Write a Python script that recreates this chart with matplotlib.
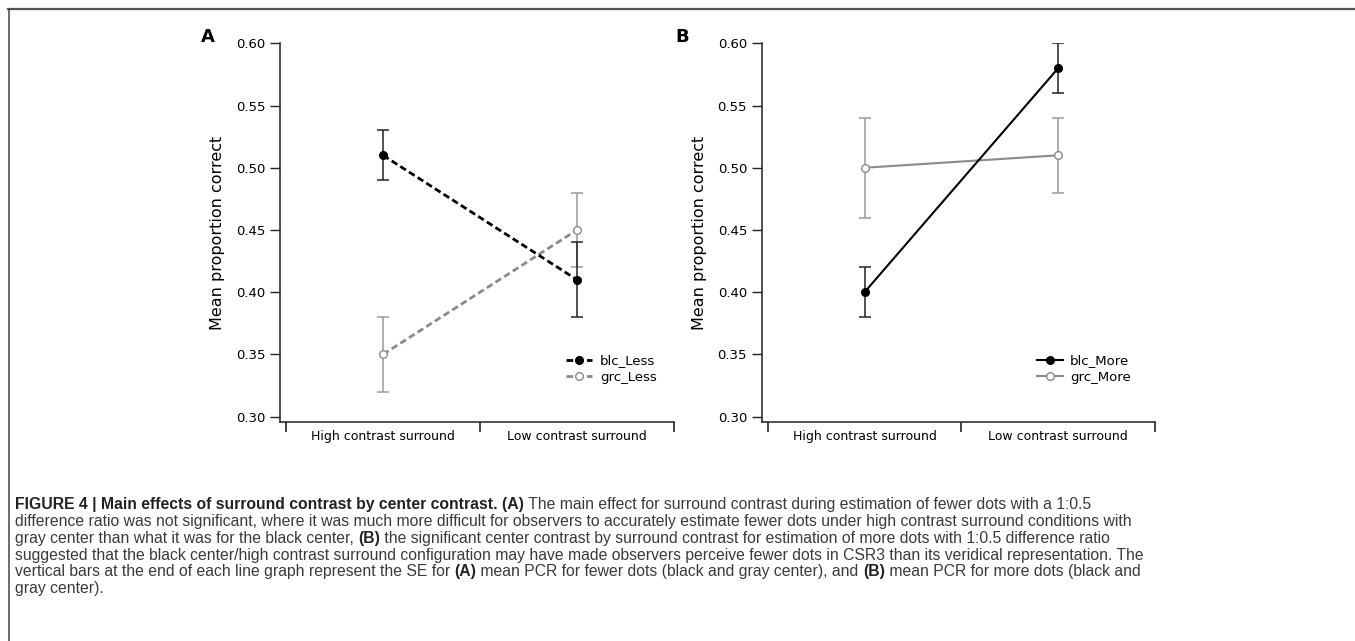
import matplotlib
matplotlib.use('Agg')
import matplotlib.pyplot as plt
from matplotlib.lines import Line2D
from matplotlib import font_manager

# data
conditions = ['High contrast surround', 'Low contrast surround']

blc_less = [0.51, 0.41]
blc_less_err = [0.02, 0.03]
grc_less = [0.35, 0.45]
grc_less_err = [0.03, 0.03]

blc_more = [0.40, 0.58]
blc_more_err = [0.02, 0.02]
grc_more = [0.50, 0.51]
grc_more_err = [0.04, 0.03]

yticks = [0.30, 0.35, 0.40, 0.45, 0.50, 0.55, 0.60]

caption = [
    [("FIGURE 4 | Main effects of surround contrast by center contrast. (A)", True),
     (" The main effect for surround contrast during estimation of fewer dots with a 1:0.5", False)],
    [("difference ratio was not significant, where it was much more difficult for observers to accurately estimate fewer dots under high contrast surround conditions with", False)],
    [("gray center than what it was for the black center, ", False), ("(B)", True),
     (" the significant center contrast by surround contrast for estimation of more dots with 1:0.5 difference ratio", False)],
    [("suggested that the black center/high contrast surround configuration may have made observers perceive fewer dots in CSR3 than its veridical representation. The", False)],
    [("vertical bars at the end of each line graph represent the SE for ", False), ("(A)", True),
     (" mean PCR for fewer dots (black and gray center), and ", False), ("(B)", True),
     (" mean PCR for more dots (black and", False)],
    [("gray center).", False)],
]

BLACK = '#000000'
GRAY = '#8a8a8a'
ERRGRAY = '#9a9a9a'

W, H = 1355, 641
fig = plt.figure(figsize=(W / 100, H / 100), dpi=100)


def px_axes(left, right, top, bottom):
    return fig.add_axes([left / W, 1 - bottom / H, (right - left) / W, (bottom - top) / H])


def style_axes(ax):
    ax.set_xlim(-0.531, 1.5)
    ax.set_ylim(0.2957, 0.60)
    ax.spines['top'].set_visible(False)
    ax.spines['right'].set_visible(False)
    for s in ['left', 'bottom']:
        ax.spines[s].set_linewidth(1.1)
        ax.spines[s].set_color('#222222')
    ax.set_yticks(yticks)
    ax.set_yticklabels(['%.2f' % v for v in yticks], fontsize=9.5)
    ax.tick_params(axis='y', length=7, width=1.0, pad=3.5, color='#222222')
    ax.set_xticks([-0.5, 0.5, 1.5])
    ax.set_xticklabels(['', '', ''])
    ax.set_xticks([0, 1], minor=True)
    ax.set_xticklabels(conditions, minor=True, fontsize=9)
    ax.tick_params(axis='x', which='major', length=7, width=1.2, color='#222222')
    ax.tick_params(axis='x', which='minor', length=0, pad=6)
    ax.set_ylabel('Mean proportion correct', fontsize=11.5, labelpad=8)
    ax.patch.set_alpha(0)


def series(ax, y, err, color, ecolor, face, ls, lw, label, z):
    ax.errorbar(x, y, yerr=err, fmt='none', ecolor=ecolor, elinewidth=1.1,
                capsize=4, capthick=1.1, zorder=z)
    ax.plot(x, y, color=color, lw=lw, ls=ls, marker='o', ms=5.5, mfc=face,
            mec=color, mew=1.0, label=label, zorder=z + 0.5)


x = [0, 1]
dash = (0, (2.4, 1.3))

# panel A
axA = px_axes(280, 674, 43.3, 422)
style_axes(axA)
series(axA, grc_less, grc_less_err, GRAY, ERRGRAY, 'white', dash, 2, 'grc_Less', 2)
series(axA, blc_less, blc_less_err, BLACK, '#222222', BLACK, dash, 2, 'blc_Less', 3)
h, l = axA.get_legend_handles_labels()
axA.legend(h[::-1], l[::-1], loc='center left', bbox_to_anchor=(0.725, 0.14), frameon=False,
           fontsize=9.5, handlelength=2.0, handletextpad=0.6, labelspacing=0.25,
           borderpad=0, borderaxespad=0)

# panel B
axB = px_axes(761.7, 1155, 43.3, 422)
style_axes(axB)
series(axB, grc_more, grc_more_err, GRAY, ERRGRAY, 'white', '-', 1.5, 'grc_More', 2)
series(axB, blc_more, blc_more_err, BLACK, '#222222', BLACK, '-', 1.5, 'blc_More', 3)
h, l = axB.get_legend_handles_labels()
axB.legend(h[::-1], l[::-1], loc='center left', bbox_to_anchor=(0.70, 0.14), frameon=False,
           fontsize=9.5, handlelength=2.0, handletextpad=0.5, labelspacing=0.25,
           borderpad=0, borderaxespad=0)

# panel letters
fig.text(208 / W, 1 - 37 / H, 'A', fontsize=13, fontweight='bold', ha='center', va='center')
fig.text(682 / W, 1 - 37 / H, 'B', fontsize=13, fontweight='bold', ha='center', va='center')

# frame lines
fig.add_artist(Line2D([8 / W, 1], [1 - 8.5 / H, 1 - 8.5 / H], color='#555555', lw=1.6))
fig.add_artist(Line2D([8.5 / W, 8.5 / W], [0, 1 - 8.5 / H], color='#444444', lw=1.1))

# caption, font size fitted so the second line spans like the original
names = {f.name for f in font_manager.fontManager.ttflist}
cap_font = 'Liberation Sans Narrow' if 'Liberation Sans Narrow' in names else 'Liberation Sans'

fig.canvas.draw()
renderer = fig.canvas.get_renderer()
probe = fig.text(0, 0, caption[1][0][0], fontsize=10, family=cap_font)
pw = probe.get_window_extent(renderer=renderer).width
probe.remove()
cap_size = 10 * 1123 / pw

y0 = 505
for i, segs in enumerate(caption):
    xpos = 15
    ypix = y0 + i * 16.7
    for txt, bold in segs:
        t = fig.text(xpos / W, 1 - ypix / H, txt, fontsize=cap_size, family=cap_font,
                     fontweight='bold' if bold else 'normal', color='#222222' if bold else '#3a3a3a',
                     ha='left', va='center')
        bb = t.get_window_extent(renderer=renderer)
        xpos += bb.width

fig.savefig('out.png', dpi=100)
